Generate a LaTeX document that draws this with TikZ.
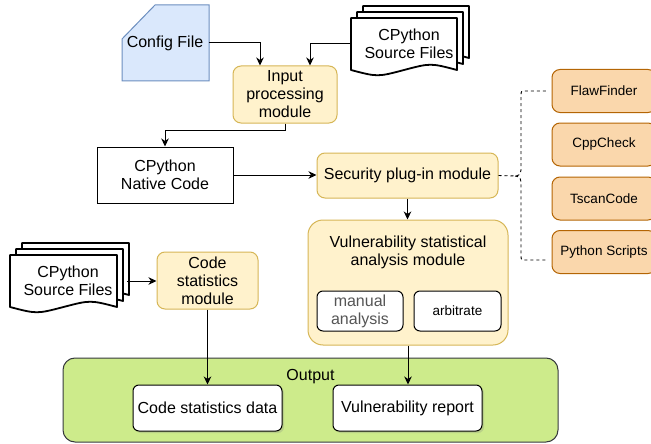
\documentclass[tikz,border=0pt]{standalone}
\usepackage{fontspec}
\setmainfont{Liberation Sans}
\usetikzlibrary{arrows.meta,shadows}

\definecolor{modfill}{HTML}{FFF2CC}
\definecolor{modline}{HTML}{D6B656}
\definecolor{cfgfill}{HTML}{DAE8FC}
\definecolor{cfgline}{HTML}{6C8EBF}
\definecolor{toolfill}{HTML}{FAD7AC}
\definecolor{toolline}{HTML}{B46504}
\definecolor{outfill}{HTML}{CDEB8B}
\definecolor{outline}{HTML}{36393D}
\definecolor{softtext}{HTML}{555555}

\tikzset{
  box/.style={draw, inner sep=0pt, align=center, line width=1pt},
  module/.style={box, fill=modfill, draw=modline, rounded corners=8pt},
  tool/.style={box, fill=toolfill, draw=toolline, rounded corners=8pt,
    minimum width=104pt, minimum height=43pt, font=\fontsize{13.5}{16}\selectfont},
  subbox/.style={box, fill=white, rounded corners=6pt, minimum width=86pt, minimum height=40pt},
  result/.style={box, fill=white, rounded corners=6pt, minimum width=149pt, minimum height=46pt,
    drop shadow={shadow xshift=2pt, shadow yshift=-2pt, opacity=0.25}},
  docline/.style={draw=black, fill=white, line width=1.8pt, line join=round},
  flow/.style={-{Stealth[length=8pt,width=7.5pt,inset=2.5pt]}, line width=1pt},
  brace/.style={dashed, line width=0.9pt},
}

% one page of a document stack: x0, y0, width, height
\newcommand{\docpage}[4]{%
  \pgfmathsetmacro{\dpR}{#1+#3}\pgfmathsetmacro{\dpM}{#1+#3/2}
  \pgfmathsetmacro{\dpA}{#1+0.75*#3}\pgfmathsetmacro{\dpC}{#1+0.25*#3}
  \pgfmathsetmacro{\dpB}{#2+#4-6}
  \pgfmathsetmacro{\dpU}{#2+#4-13}\pgfmathsetmacro{\dpD}{#2+#4+1}
  \filldraw[docline] (#1,#2) -- (\dpR,#2) -- (\dpR,\dpB) .. controls (\dpA,\dpU) .. (\dpM,\dpB)
    .. controls (\dpC,\dpD) .. (#1,\dpB) -- cycle;}

\begin{document}
\begin{tikzpicture}[x=1pt, y=-1pt, font=\fontsize{16}{18}\selectfont]
  \useasboundingbox (0,0) rectangle (651,444);

  % inputs
  \filldraw[fill=cfgfill, draw=cfgline, line width=1pt] (122,39) -- (155,5) -- (209,5) -- (209,81) -- (122,81) -- cycle;
  \node[inner sep=0pt, minimum width=87pt, minimum height=50pt] (cfg) at (165,43) {Config File};
  \foreach \k in {2,1,0} \docpage{351+6*\k}{18-6*\k}{106}{58};
  \node[inner sep=0pt, align=center, minimum width=118pt, minimum height=50pt] (srctop) at (409,44) {CPython\\Source Files};
  \foreach \k in {2,1,0} \docpage{10+6*\k}{255-6*\k}{107}{58};
  \node[inner sep=0pt, align=center, minimum width=118pt, minimum height=50pt] (srcleft) at (68,281) {CPython\\Source Files};

  % modules
  \node[module, minimum width=104pt, minimum height=57pt] (inp) at (285,94.5) {Input\\processing\\module};
  \node[box, minimum width=136pt, minimum height=56pt] (native) at (165,175) {CPython\\Native Code};
  \node[module, minimum width=181pt, minimum height=45pt] (sec) at (407.5,175.5) {Security plug-in module};
  \node[module, rounded corners=15pt, minimum width=200pt, minimum height=125pt] (vsa) at (408,282.5) {};
  \node[align=center, inner sep=0pt] (vsatitle) at (408,252) {Vulnerability statistical\\analysis module};
  \node[subbox, text=softtext] (manual) at (360,311) {manual\\analysis};
  \node[subbox, minimum width=87pt, font=\fontsize{13.5}{16}\selectfont] (arb) at (457.5,311) {arbitrate};
  \node[module, minimum width=101pt, minimum height=57pt] (cstat) at (207.5,280.5) {Code\\statistics\\module};

  % tools
  \node[tool] (flaw) at (604,91) {FlawFinder};
  \node[tool] (cpp) at (604,144.5) {CppCheck};
  \node[tool] (tscan) at (604,198.5) {TscanCode};
  \node[tool] (pyscr) at (604,252) {Python Scripts};

  % output
  \node[box, fill=outfill, draw=outline, rounded corners=12pt, minimum width=495pt, minimum height=84pt] (out) at (310.5,400) {};
  \node[inner sep=0pt] (outlabel) at (310.5,377) {Output};
  \node[result] (csdata) at (207.5,408) {Code statistics data};
  \node[result] (vreport) at (407.5,408) {Vulnerability report};

  % connectors
  \draw[flow] (cfg.east) -| ([xshift=-25pt]inp.north);
  \draw[flow] (srctop.west) -| ([xshift=25pt]inp.north);
  \draw[flow] (inp.south) -- ++(0,7) -| (native.north);
  \draw[flow] (native.east) -- (native.east -| sec.west);
  \draw[flow] (sec.south) -- (sec.south |- vsa.north);
  \draw[flow] (srcleft.east) -- (srcleft.east -| cstat.west);
  \draw[flow] (cstat.south) -- (csdata.north);
  \draw[flow] (vsa.south) -- (vsa.south |- vreport.north);

  % bracket to the tools
  \coordinate (brtop) at (547,91);
  \coordinate (brbot) at (547,260);
  \draw[brace] (sec.east) -- (515,176) .. controls (520,175) .. (521,170) -- (521,96)
    .. controls (521,91) .. (526,91) -- (brtop);
  \draw[brace] (515,176) .. controls (520,177) .. (521,182) -- (521,255)
    .. controls (521,260) .. (526,260) -- (brbot);
\end{tikzpicture}
\end{document}
